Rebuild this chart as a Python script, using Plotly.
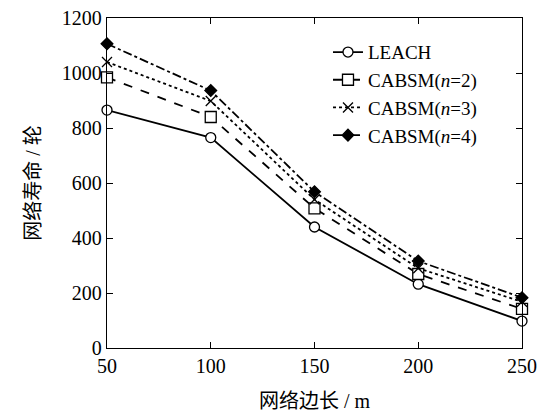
import plotly.graph_objects as go

x_vals = [50, 100, 150, 200, 250]
leach = [865, 765, 440, 232, 98]
cabsm2 = [984, 840, 508, 269, 142]
cabsm3 = [1040, 898, 540, 290, 168]
cabsm4 = [1106, 936, 568, 316, 183]
names = ["LEACH", "CABSM(<i>n</i>=2)", "CABSM(<i>n</i>=3)", "CABSM(<i>n</i>=4)"]
y_ticks = [0, 200, 400, 600, 800, 1000, 1200]
x_ticks = [50, 100, 150, 200, 250]

series = [leach, cabsm2, cabsm3, cabsm4]
dashes = ["solid", "dash", "dot", "dashdot"]
symbols = ["circle", "square", "x-thin", "diamond"]
fills = ["white", "white", "black", "black"]
sizes = [10, 11, 10, 9]

fig = go.Figure()
for ys, nm, d, s, fc, sz in zip(series, names, dashes, symbols, fills, sizes):
    fig.add_trace(go.Scatter(
        x=x_vals, y=ys, name=nm, mode="lines+markers",
        line=dict(color="black", width=1.8, dash=d),
        marker=dict(symbol=s, size=sz, color=fc, line=dict(color="black", width=1.3)),
        cliponaxis=False,
    ))

serif = "Liberation Serif"
mixed = "Liberation Serif, Noto Sans CJK SC"
tickfont = dict(family=serif, size=20, color="black")
# page has an 8px body margin, so the figure is 8px smaller and shifted
fig.update_layout(
    width=543, height=407,
    margin=dict(l=99, r=29, t=10, b=67),
    paper_bgcolor="white", plot_bgcolor="white",
    font=dict(family=serif, size=19, color="black"),
    showlegend=True,
    legend=dict(x=0.5325, y=0.954, xanchor="left", yanchor="top",
                bgcolor="rgba(0,0,0,0)", font=dict(size=19, family=serif, color="black"),
                tracegroupgap=0),
    xaxis=dict(
        range=[50, 250], tickvals=x_ticks, ticks="inside", ticklen=6, tickwidth=1.2,
        tickcolor="black", tickfont=tickfont, automargin=False, ticklabeloverflow="allow",
        showline=True, linecolor="black", linewidth=1.3, mirror="ticks",
        showgrid=False, zeroline=False,
        title=dict(text="网络边长 / m", font=dict(family=mixed, size=20, color="black"), standoff=17),
    ),
    yaxis=dict(
        range=[0, 1200], tickvals=y_ticks, ticks="inside", ticklen=6, tickwidth=1.2,
        tickcolor="black", tickfont=tickfont, automargin=False, ticklabeloverflow="allow",
        showline=True, linecolor="black", linewidth=1.3, mirror="ticks",
        showgrid=False, zeroline=False,
        title=dict(text="网络寿命 / 轮", font=dict(family=mixed, size=20, color="black"), standoff=15),
    ),
)

fig.write_html("out.html")
